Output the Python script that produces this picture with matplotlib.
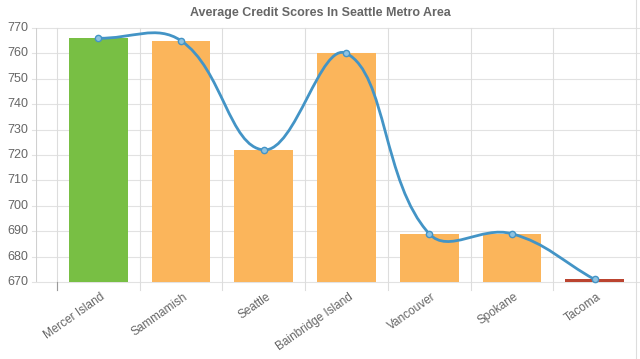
import matplotlib
matplotlib.use("Agg")
import matplotlib.pyplot as plt
from matplotlib.path import Path
from matplotlib.patches import PathPatch
import numpy as np

plt.rcParams['font.family'] = ['Liberation Sans', 'DejaVu Sans']

cities = ["Mercer Island", "Sammamish", "Seattle", "Bainbridge Island",
          "Vancouver", "Spokane", "Tacoma"]
scores = [766, 765, 722, 760, 689, 689, 671]
bar_colors = ["#78bf44", "#fbb55b", "#fbb55b", "#fbb55b", "#fbb55b", "#fbb55b", "#bb4430"]
y_ticks = [670, 680, 690, 700, 710, 720, 730, 740, 750, 760, 770]

W, H = 640, 359
fig = plt.figure(figsize=(W / 100, H / 100), dpi=100)
left, right, top, bottom = 36, 636, 28, 282
ax = fig.add_axes([left / W, 1 - bottom / H, (right - left) / W, (bottom - top) / H])

x = np.arange(len(cities))
x0 = -0.5 - 21 / 83
ax.set_xlim(x0, len(cities) - 0.5)
ax.set_ylim(670, 770)

ax.bar(x, np.array(scores) - 670, bottom=670, width=0.71, color=bar_colors, zorder=2)

# chart.js style bezier curve (tension 0.4), computed in pixel space
px_per_x = (right - left) / (len(cities) - 0.5 - x0)
px_per_y = (bottom - top) / 100.0
pts = np.column_stack([x * px_per_x, np.array(scores) * px_per_y])
n = len(pts)
ctrl_prev = pts.copy()
ctrl_next = pts.copy()
t = 0.4
for i in range(n):
    prev = pts[max(i - 1, 0)]
    cur = pts[i]
    nxt = pts[min(i + 1, n - 1)]
    d01 = np.hypot(*(cur - prev))
    d12 = np.hypot(*(nxt - cur))
    tot = d01 + d12
    s01 = d01 / tot if tot else 0
    s12 = d12 / tot if tot else 0
    ctrl_prev[i] = cur - t * s01 * (nxt - prev)
    ctrl_next[i] = cur + t * s12 * (nxt - prev)

scale = np.array([px_per_x, px_per_y])
verts = [pts[0] / scale]
codes = [Path.MOVETO]
for i in range(n - 1):
    verts += [ctrl_next[i] / scale, ctrl_prev[i + 1] / scale, pts[i + 1] / scale]
    codes += [Path.CURVE4] * 3
ax.add_patch(PathPatch(Path(verts, codes), fill=False, edgecolor="#4394c6",
                       lw=2.0, zorder=3, capstyle="round"))
ax.plot(x, scores, "o", ms=4.5, mfc="#8fc3e2", mec="#4394c6", mew=1, zorder=4,
        clip_on=False)

# grid
for yv in y_ticks:
    ax.plot([x0 - 4 / px_per_x, len(cities) - 0.5 + 3 / px_per_x], [yv, yv],
            color="#e2e2e2", lw=0.8, zorder=1, clip_on=False)
for b in np.arange(-0.5, len(cities) - 1, 1.0):
    ax.plot([b, b], [770, 670 - 8 / px_per_y], color="#dddddd", lw=0.8,
            zorder=1, clip_on=False)
ax.plot([x0, x0], [670, 770], color="#d0d0d0", lw=0.8, zorder=1)
ax.plot([-0.5, -0.5], [670, 670 - 8 / px_per_y], color="#9a9a9a", lw=0.8,
        zorder=1, clip_on=False)
# right edge of the widget
fig.add_artist(plt.Line2D([right / W, right / W], [0, 1], color="#dddddd", lw=0.8))

for s in ax.spines.values():
    s.set_visible(False)
ax.set_xticks([])
ax.set_yticks([])

for yv in y_ticks:
    ax.text(x0 - 8 / px_per_x, yv, str(yv), ha="right", va="center",
            fontsize=9, color="#666666")
for xi, name in zip(x, cities):
    ax.text(xi + 2 / px_per_x, 670 - 9 / px_per_y, name, rotation=35,
            ha="right", va="top", rotation_mode="anchor", fontsize=8.5,
            color="#666666")

fig.text(0.5, 1 - 13 / H, "Average Credit Scores In Seattle Metro Area",
         ha="center", va="center", fontsize=9, fontweight="bold", color="#666666")

fig.savefig("out.png", dpi=100)
